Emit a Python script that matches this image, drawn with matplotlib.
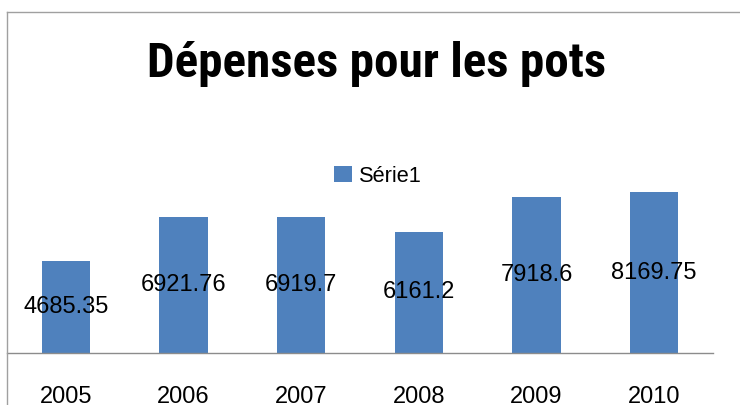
import matplotlib
matplotlib.use("Agg")
import matplotlib.pyplot as plt
from matplotlib.lines import Line2D

categories = ["2005", "2006", "2007", "2008", "2009", "2010"]
values = [4685.35, 6921.76, 6919.7, 6161.2, 7918.6, 8169.75]
value_labels = ["4685.35", "6921.76", "6919.7", "6161.2", "7918.6", "8169.75"]
series_name = "Série1"
title = "Dépenses pour les pots"

W, H = 740, 405
fig = plt.figure(figsize=(W / 100, H / 100), dpi=100)
fig.patch.set_facecolor("white")

def fx(px):
    return px / W

def fy(py):
    return (H - py) / H

body = "Liberation Sans"
narrow = "Roboto Condensed"

# axes: x from 7 to 713 px, baseline at 353 px
ymax = 10000
px_per_val = 1 / 50.8
top_px = 353 - ymax * px_per_val
ax = fig.add_axes([fx(7), fy(353), fx(713) - fx(7), fy(top_px) - fy(353)])
ax.set_facecolor("none")

xs = list(range(len(categories)))
bars = ax.bar(xs, values, width=0.41, color="#4F81BD", label=series_name, zorder=2)
ax.bar_label(bars, labels=value_labels, label_type="center",
             fontsize=17, family=body, color="black")

ax.set_xlim(-0.5, len(categories) - 0.5)
ax.set_ylim(0, ymax)
ax.set_xticks(xs)
ax.set_xticklabels(categories, fontsize=17, family=body)
ax.tick_params(axis="x", length=0, pad=23.5)
ax.set_yticks([])
for s in ["top", "right", "left"]:
    ax.spines[s].set_visible(False)
ax.spines["bottom"].set_color("#8c8c8c")
ax.spines["bottom"].set_linewidth(1.0)
ax.spines["bottom"].set_zorder(3)

# legend
leg = fig.legend(handles=[bars], labels=[series_name], loc="center",
                 bbox_to_anchor=(fx(378), fy(176)), frameon=False,
                 prop={"family": body, "size": 15.7},
                 handlelength=0.82, handleheight=0.8, handletextpad=0.3,
                 borderpad=0, borderaxespad=0)

# title
fig.text(fx(377), fy(77), title, ha="center", va="baseline",
         fontsize=35.4, fontweight="bold", family=narrow, color="black")

# chart frame (top and left visible)
fig.add_artist(Line2D([fx(7), fx(740)], [fy(12), fy(12)], color="#a0a0a0", lw=1.0))
fig.add_artist(Line2D([fx(7), fx(7)], [fy(12), fy(405)], color="#a0a0a0", lw=1.0))

fig.savefig("out.png", dpi=100, facecolor="white")
